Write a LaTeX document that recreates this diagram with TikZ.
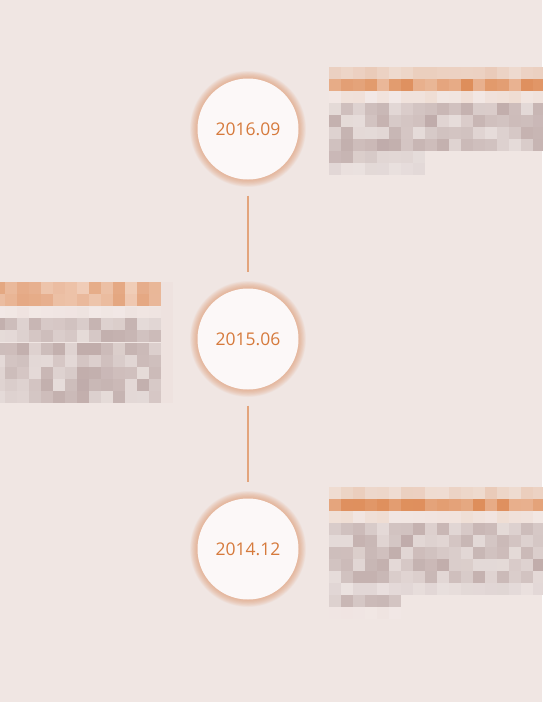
\documentclass[tikz,border=0pt]{standalone}
\usepackage{fontspec}
\setmainfont{Open Sans}
\definecolor{bg}{HTML}{F0E6E3}
\definecolor{circfill}{HTML}{FCF8F8}
\definecolor{datecol}{HTML}{D67A3C}
\definecolor{linecol}{HTML}{E3A47C}
\definecolor{glowcol}{HTML}{E59A70}
\definecolor{lA}{HTML}{EFDDD3}\definecolor{lB}{HTML}{EACBB9}
\definecolor{oA}{HTML}{DE8C58}\definecolor{oB}{HTML}{EAB899}
\definecolor{pA}{HTML}{E4A680}\definecolor{pB}{HTML}{F0CDB8}
\definecolor{gA}{HTML}{C0ACAA}\definecolor{gB}{HTML}{E6DCDA}
\definecolor{wA}{HTML}{E0D5D4}\definecolor{wB}{HTML}{ECE3E1}
\definecolor{fA}{HTML}{EEE2DF}\definecolor{fB}{HTML}{F2E8E6}
\newcommand\mosaicrow[5]{%
  \foreach \i in {1,...,#3}{%
    \pgfmathsetmacro\mix{int(rnd*100)}%
    \fill[#4!\mix!#5] ({#1+(\i-1)*12},#2) rectangle ++(12.3,12.3);
  }}
\tikzset{
  datecircle/.style={circle, minimum size=101pt, inner sep=0pt, fill=circfill,
    text=datecol, font=\fontsize{17.5}{20}\selectfont},
  conn/.style={draw=linecol, line width=2pt}
}
\begin{document}
\begin{tikzpicture}[x=1pt,y=-1pt]
\useasboundingbox[fill=bg] (0,0) rectangle (542,702);
\pgfmathsetseed{4242}
% top right mosaic
\mosaicrow{329}{67}{18}{lA}{lB}
\mosaicrow{329}{79}{18}{oA}{oB}
\mosaicrow{329}{91}{18}{lA}{fB}
\mosaicrow{329}{103}{18}{gA}{gB}
\mosaicrow{329}{115}{18}{gA}{gB}
\mosaicrow{329}{127}{18}{gA}{gB}
\mosaicrow{329}{139}{18}{gA}{gB}
\mosaicrow{329}{151}{8}{gA}{gB}
\mosaicrow{329}{163}{8}{wA}{wB}
% left mosaic
\mosaicrow{-7}{282}{14}{pA}{pB}
\mosaicrow{-7}{294}{14}{pA}{pB}
\mosaicrow{-7}{307}{14}{fA}{fB}
\mosaicrow{-7}{318}{14}{gA}{gB}
\mosaicrow{-7}{330}{14}{gA}{gB}
\mosaicrow{-7}{343}{14}{gA}{gB}
\mosaicrow{-7}{355}{14}{gA}{gB}
\mosaicrow{-7}{367}{14}{gA}{gB}
\mosaicrow{-7}{379}{14}{gA}{gB}
\mosaicrow{-7}{391}{14}{gA}{gB}
\fill[fA] (161,282) rectangle (173,403);
% bottom right mosaic
\mosaicrow{329}{487}{18}{lA}{lB}
\mosaicrow{329}{499}{18}{oA}{oB}
\mosaicrow{329}{511}{18}{lA}{fB}
\mosaicrow{329}{523}{18}{gA}{gB}
\mosaicrow{329}{535}{18}{gA}{gB}
\mosaicrow{329}{547}{18}{gA}{gB}
\mosaicrow{329}{559}{18}{gA}{gB}
\mosaicrow{329}{571}{18}{gA}{gB}
\mosaicrow{329}{583}{18}{wA}{wB}
\mosaicrow{329}{595}{6}{gA}{gB}
\mosaicrow{329}{607}{6}{fA}{fB}
% circles with soft glow
\coordinate (p1) at (248,129);
\coordinate (p2) at (248,339);
\coordinate (p3) at (248,549);
\foreach \p in {p1,p2,p3}{
  \foreach \k in {1,...,14}{
    \fill[glowcol, opacity=0.06] (\p) circle ({50.3+\k*0.55});
  }
}
\node[datecircle] (c1) at (p1) {2016.09};
\node[datecircle] (c2) at (p2) {2015.06};
\node[datecircle] (c3) at (p3) {2014.12};
\draw[conn] ([yshift=-16pt]c1.south) -- ([yshift=16pt]c2.north);
\draw[conn] ([yshift=-16pt]c2.south) -- ([yshift=16pt]c3.north);
\end{tikzpicture}
\end{document}
